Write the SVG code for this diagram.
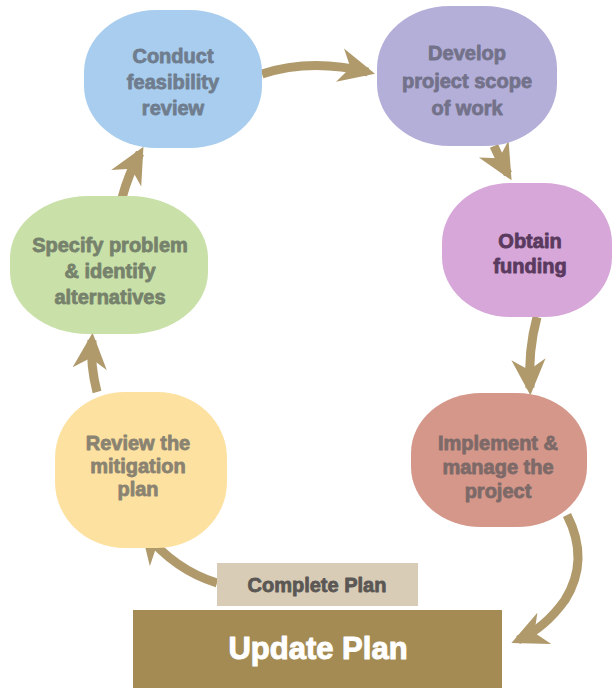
<svg xmlns="http://www.w3.org/2000/svg" width="613" height="688" viewBox="0 0 613 688">
<defs>
<style>
.t{font-family:"Liberation Sans",Arial,sans-serif;font-weight:bold;font-size:20px;text-anchor:middle;stroke-width:0.8px;stroke-linejoin:round}
.c{fill:none;stroke:#b09a6c;stroke-width:9;stroke-linecap:butt}
</style>
<marker id="ah" markerUnits="userSpaceOnUse" markerWidth="36" markerHeight="36" viewBox="0 0 20 20" refX="16" refY="10" orient="auto">
<path d="M0,0.5 L20,10 L0,19.5 L6,10 Z" fill="#b09a6c"/>
</marker>
</defs>
<rect width="613" height="688" fill="#ffffff"/>
<g id="connectors">
<path class="c" d="M262,74 Q310,58 368,72" marker-end="url(#ah)"/>
<path class="c" d="M494,146 Q500,160 508,174" marker-end="url(#ah)"/>
<path class="c" d="M537,317 Q528,350 530,388" marker-end="url(#ah)"/>
<path class="c" d="M567,515 Q590,560 565,600 Q545,628 518,640" marker-end="url(#ah)"/>
<path class="c" d="M217,583 Q175,570 145,533" marker-end="url(#ah)"/>
<path class="c" d="M97,392 Q90,365 92,340" marker-end="url(#ah)"/>
<path class="c" d="M122,198 Q128,175 140,153" marker-end="url(#ah)"/>
</g>
<g id="n1">
<rect x="84" y="10" width="178" height="138" rx="72" ry="62" fill="#a8cdee"/>
<text class="t" fill="#6f7d8e" stroke="#6f7d8e"><tspan x="173" y="63">Conduct</tspan><tspan x="173" y="89">feasibility</tspan><tspan x="173" y="115">review</tspan></text>
</g>
<g id="n2">
<rect x="377" y="6" width="180" height="140" rx="72" ry="62" fill="#b4afd9"/>
<text class="t" fill="#73728a" stroke="#73728a"><tspan x="467" y="60">Develop</tspan><tspan x="467" y="88">project scope</tspan><tspan x="467" y="115">of work</tspan></text>
</g>
<g id="n3">
<rect x="442" y="183" width="170" height="134" rx="68" ry="60" fill="#d6a7d8"/>
<text class="t" fill="#5a3a5e" stroke="#5a3a5e"><tspan x="530" y="248">Obtain</tspan><tspan x="530" y="273">funding</tspan></text>
</g>
<g id="n4">
<rect x="411" y="393" width="176" height="134" rx="70" ry="60" fill="#d4978a"/>
<text class="t" fill="#7d6a68" stroke="#7d6a68"><tspan x="498" y="450">Implement &amp;</tspan><tspan x="498" y="474">manage the</tspan><tspan x="498" y="498">project</tspan></text>
</g>
<g id="n5">
<rect x="55" y="392" width="172" height="156" rx="70" ry="66" fill="#fde1a0"/>
<text class="t" fill="#8a8372" stroke="#8a8372"><tspan x="138" y="450">Review the</tspan><tspan x="138" y="473">mitigation</tspan><tspan x="138" y="496">plan</tspan></text>
</g>
<g id="n6">
<rect x="10" y="196" width="198" height="138" rx="78" ry="62" fill="#c9e0a8"/>
<text class="t" fill="#76826c" stroke="#76826c"><tspan x="110" y="252">Specify problem</tspan><tspan x="110" y="278">&amp; identify</tspan><tspan x="110" y="304">alternatives</tspan></text>
</g>
<g id="complete">
<rect x="217" y="563" width="201" height="43" fill="#d8ccb6"/>
<text class="t" fill="#5a5754" stroke="#5a5754" x="317" y="592">Complete Plan</text>
</g>
<g id="update">
<rect x="133" y="610" width="369" height="78" fill="#a48b54"/>
<text class="t" fill="#ffffff" stroke="#ffffff" x="318" y="659" style="font-size:31px;stroke-width:1px">Update Plan</text>
</g>
</svg>
